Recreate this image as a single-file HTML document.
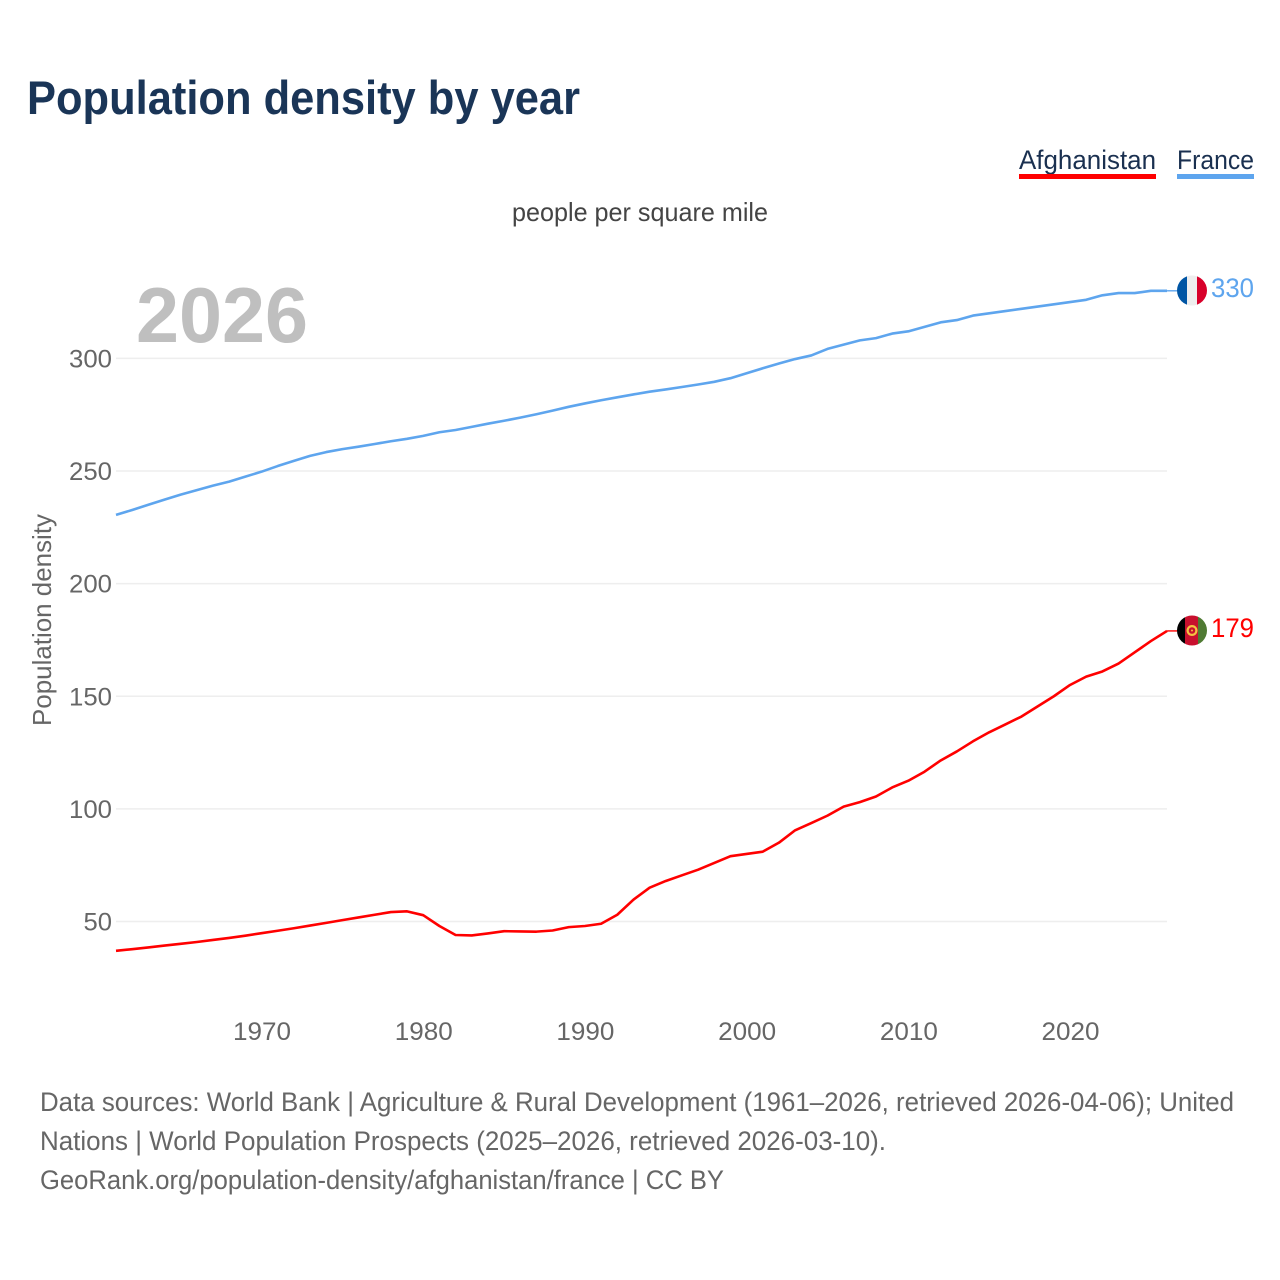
<!DOCTYPE html>
<html lang="en">
<head>
<meta charset="utf-8">
<title>Population density by year</title>
<style>
html,body{margin:0;padding:0;background:#fff;}
svg{display:block;font-family:"Liberation Sans",sans-serif;}
</style>
</head>
<body>
<svg id="chart" xmlns="http://www.w3.org/2000/svg" width="1280" height="1280" viewBox="0 0 1280 1280">
  <rect x="0" y="0" width="1280" height="1280" fill="#ffffff"/>
  <defs>
    <clipPath id="flag-clip-fr"><circle cx="1192" cy="290.5" r="15"/></clipPath>
    <clipPath id="flag-clip-af"><circle cx="1192" cy="630.5" r="15"/></clipPath>
  </defs>
  <text x="27" y="114" font-size="47" font-weight="700" fill="#1a3557" textLength="553" lengthAdjust="spacingAndGlyphs">Population density by year</text>

  <g>
    <g>
      <text x="1019" y="169" font-size="27" fill="#1a3050" textLength="137" lengthAdjust="spacingAndGlyphs">Afghanistan</text>
      <rect x="1019" y="174" width="137" height="5" fill="#ff0000"/>
    </g>
    <g>
      <text x="1177" y="169" font-size="27" fill="#1a3050" textLength="77" lengthAdjust="spacingAndGlyphs">France</text>
      <rect x="1177" y="174" width="77" height="5" fill="#5ea5ee"/>
    </g>
  </g>

  <text x="512" y="221" font-size="26" fill="#444444" textLength="256" lengthAdjust="spacingAndGlyphs">people per square mile</text>
  <text x="136" y="342" font-size="78" font-weight="700" fill="#bfbfbf" textLength="172" lengthAdjust="spacingAndGlyphs">2026</text>
  <text transform="translate(51,726) rotate(-90)" x="0" y="0" font-size="26" fill="#666666" textLength="212" lengthAdjust="spacingAndGlyphs">Population density</text>

  <g id="grid"></g>
  <g id="yticks"></g>
  <g id="xticks"></g>
  <g id="series"></g>

  <g clip-path="url(#flag-clip-fr)">
    <rect x="1177" y="275" width="10" height="31" fill="#0055a4"/>
    <rect x="1187" y="275" width="10" height="31" fill="#eeeeee"/>
    <rect x="1197" y="275" width="10" height="31" fill="#d8002a"/>
  </g>
  <text x="1211" y="297" font-size="27" fill="#5ea5ee" textLength="43" lengthAdjust="spacingAndGlyphs">330</text>

  <g clip-path="url(#flag-clip-af)">
    <rect x="1177" y="615" width="8" height="31" fill="#000000"/>
    <rect x="1185" y="615" width="13" height="31" fill="#c8102e"/>
    <rect x="1198" y="615" width="9" height="31" fill="#4f7a33"/>
    <circle cx="1192" cy="630.5" r="4.4" fill="none" stroke="#f5c242" stroke-width="2.2"/>
    <circle cx="1192" cy="630.5" r="1" fill="#f5c242"/>
  </g>
  <text x="1211" y="637" font-size="27" fill="#ff0000" textLength="43" lengthAdjust="spacingAndGlyphs">179</text>

  <g font-size="26.5" fill="#666666">
    <text x="40" y="1111" textLength="1194" lengthAdjust="spacingAndGlyphs">Data sources: World Bank | Agriculture &amp; Rural Development (1961–2026, retrieved 2026-04-06); United</text>
    <text x="40" y="1150" textLength="846" lengthAdjust="spacingAndGlyphs">Nations | World Population Prospects (2025–2026, retrieved 2026-03-10).</text>
    <text x="40" y="1189" textLength="684" lengthAdjust="spacingAndGlyphs">GeoRank.org/population-density/afghanistan/france | CC BY</text>
  </g>
</svg>
<script>
const firstYear = 1961;
const yTickValues = [50, 100, 150, 200, 250, 300];
const xTickValues = [1970, 1980, 1990, 2000, 2010, 2020];
const franceValues = [230.5,232.7,235,237.3,239.5,241.5,243.5,245.3,247.5,249.7,252.2,254.5,256.7,258.4,259.7,260.8,262,263.2,264.3,265.6,267.2,268.2,269.6,271,272.3,273.7,275.2,276.8,278.5,280,281.4,282.7,284,285.2,286.2,287.3,288.4,289.6,291.2,293.4,295.6,297.7,299.7,301.3,304.2,306.1,308,309,311,312,314,316,317,319,320,321,322,323,324,325,326,328,329,329,330,330];
const afghanistanValues = [37,37.7,38.5,39.3,40.1,40.9,41.8,42.7,43.7,44.8,45.9,47,48.2,49.4,50.6,51.8,53,54.2,54.5,52.8,48,44,43.8,44.7,45.7,45.6,45.5,46,47.5,48,49,53,59.7,65,68,70.5,73,76,79,80,81,85,90.5,93.7,97,101,103,105.5,109.5,112.5,116.5,121.5,125.5,130,134,137.5,141,145.5,150,155,158.7,161,164.5,169.5,174.5,179];

const SVGNS = 'http://www.w3.org/2000/svg';
function xScale(year) { return 116 + (year - 1961) * 16.17; }
function yScale(v) { return 921.5 - (v - 50) * 2.2525; }
function make(tag, attrs, parent) {
  const el = document.createElementNS(SVGNS, tag);
  for (const k in attrs) el.setAttribute(k, attrs[k]);
  parent.appendChild(el);
  return el;
}
const gridG = document.getElementById('grid');
const yG = document.getElementById('yticks');
const xG = document.getElementById('xticks');
const seriesG = document.getElementById('series');

yTickValues.forEach(function (v) {
  const line = make('line', {x1: 116, x2: 1167, y1: yScale(v), y2: yScale(v), stroke: '#eeeeee', 'stroke-width': 1.5}, gridG);
  
  
  const s = String(v);
  const w = s.length === 3 ? 43 : 28.5;
  const t = make('text', {x: 112 - w, y: yScale(v) + 9, 'font-size': 25, fill: '#666666', textLength: w, lengthAdjust: 'spacingAndGlyphs'}, yG);
  t.textContent = s;
  
  
});

xTickValues.forEach(function (v) {
  const t = make('text', {x: xScale(v) - 28.5, y: 1040, 'font-size': 25, fill: '#666666', textLength: 58, lengthAdjust: 'spacingAndGlyphs'}, xG);
  t.textContent = String(v);
  
  
});

function drawSeries(values, color, name) {
  const pts = values.map(function (v, i) { return xScale(firstYear + i).toFixed(2) + ',' + yScale(v).toFixed(2); });
  const p = make('polyline', {points: pts.join(' '), fill: 'none', stroke: color, 'stroke-width': 2.6, 'stroke-linejoin': 'round'}, seriesG);
  
  
  const last = values[values.length - 1];
  const stub = make('line', {x1: xScale(firstYear + values.length - 1), x2: 1177, y1: yScale(last), y2: yScale(last), stroke: color, 'stroke-width': 1.4}, seriesG);
  
  
}
drawSeries(franceValues, '#5ea5ee', 'line-france');
drawSeries(afghanistanValues, '#ff0000', 'line-afghanistan');
</script>
</body>
</html>
